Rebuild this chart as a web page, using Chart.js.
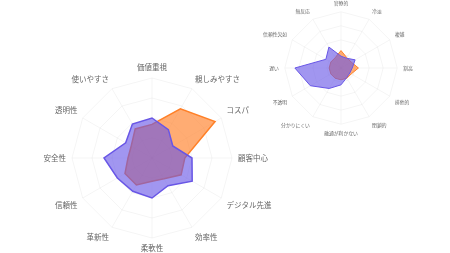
<!DOCTYPE html>
<html>
<head>
<meta charset="utf-8">
<script src="https://cdn.jsdelivr.net/npm/chart.js@4/dist/chart.umd.min.js"></script>
<style>
  html, body { margin: 0; padding: 0; background: #fff; }
  body { width: 450px; height: 253px; position: relative; overflow: hidden; }
  .box { position: absolute; }
</style>
</head>
<body>
<div class="box" style="left:2px; top:63px; width:300px; height:190px;"><canvas id="mainChart"></canvas></div>
<div class="box" style="left:251px; top:0px; width:180px; height:136px;"><canvas id="subChart"></canvas></div>
<script>
// ====== DATA ======
const mainLabels = ["価値重視", "親しみやすさ", "コスパ", "顧客中心", "デジタル先進", "効率性",
  "柔軟性", "革新性", "信頼性", "安全性", "透明性", "使いやすさ"];
const mainPurple = [50, 41, 30, 50, 58, 40, 50, 48, 50, 60, 38, 49];
const mainOrange = [42, 71, 91, 41, 42, 30, 29, 39, 39, 30, 30, 42];

const subLabels = ["官僚的", "冷淡", "複雑", "割高", "排他的", "閉鎖的",
  "融通が利かない", "分かりにくい", "不透明", "遅い", "信頼性欠如", "無反応"];
const subPurple = [21, 20, 29, 20, 18, 20, 30, 42, 63, 82, 31, 43];
const subOrange = [31, 21, 21, 31, 21, 21, 21, 21, 21, 21, 21, 21];

const scaleMax = 100;
const scaleStep = 25;

// ====== STYLE ======
const purpleLine = "rgb(104, 86, 230)";
const purpleFill = "rgba(104, 86, 230, 0.62)";
const orangeLine = "rgb(255, 128, 40)";
const orangeFill = "rgba(255, 128, 40, 0.65)";
const gridColor = "rgba(0, 0, 0, 0.045)";
const fontFamily = "'Noto Sans CJK JP', 'Noto Sans', sans-serif";

function radarConfig(labels, purple, orange, fontSize, pad, lineW) {
  return {
    type: 'radar',
    data: {
      labels,
      datasets: [
        { data: purple, borderColor: purpleLine, backgroundColor: purpleFill, borderWidth: lineW, pointRadius: 0, fill: true },
        { data: orange, borderColor: orangeLine, backgroundColor: orangeFill, borderWidth: lineW, pointRadius: 0, fill: true }
      ]
    },
    options: {
      responsive: true,
      maintainAspectRatio: false,
      animation: false,
      layout: { padding: 0 },
      plugins: { legend: { display: false }, tooltip: { enabled: false } },
      elements: { line: { tension: 0 } },
      scales: {
        r: {
          min: 0, max: scaleMax,
          ticks: { display: false, stepSize: scaleStep },
          grid: { color: gridColor, lineWidth: 1 },
          angleLines: { color: gridColor, lineWidth: 1 },
          pointLabels: { color: "#666", padding: pad, font: { size: fontSize, family: fontFamily } }
        }
      }
    }
  };
}

new Chart(document.getElementById('mainChart'), radarConfig(mainLabels, mainPurple, mainOrange, 7.5, 6, 1.5));
new Chart(document.getElementById('subChart'), radarConfig(subLabels, subPurple, subOrange, 4.8, 6, 1));
</script>
</body>
</html>
